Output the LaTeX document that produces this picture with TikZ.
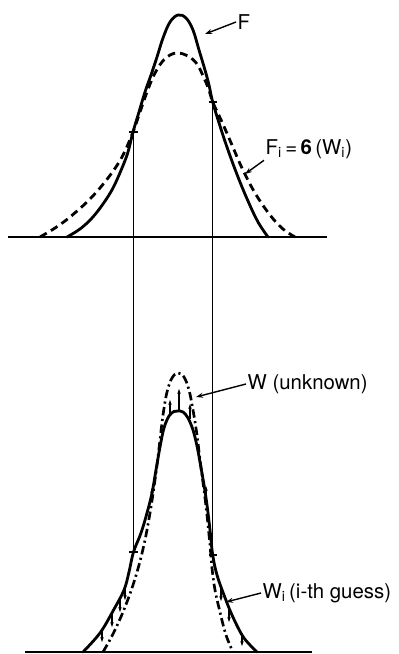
\documentclass[tikz,border=0pt]{standalone}
\usepackage{fontspec}
\setmainfont{TeX Gyre Heros}
\usetikzlibrary{arrows.meta}
\begin{document}
\begin{tikzpicture}[x=0.025cm,y=-0.025cm,
  curve/.style={line width=2pt, line join=round, line cap=round},
  dashcurve/.style={line width=2pt, line join=round, dash pattern=on 5.5pt off 3.5pt},
  dashdotcurve/.style={line width=1.9pt, line join=round, dash pattern=on 6pt off 2.5pt on 1.5pt off 2.5pt},
  axisline/.style={line width=2pt},
  guide/.style={line width=0.9pt},
  tickmark/.style={line width=0.9pt},
  lbl/.style={font=\fontsize{14.5}{16}\selectfont, inner sep=1pt, anchor=west},
  lblarrow/.style={line width=1pt, -{Stealth[length=5pt,width=3.5pt]}},
  corr/.style={line width=0.8pt, -{Stealth[length=3.5pt,width=2.5pt]}},
]
\useasboundingbox (0,0) rectangle (399,654);

% ---------- top plot ----------
\coordinate (tL0) at (8,237);
\coordinate (tR0) at (327,237);
\draw[axisline] (tL0) -- (tR0);

% F (solid)
\draw[curve] plot[smooth, tension=0.6] coordinates {
 (67,237) (80,229) (92,218) (103,204) (113,188) (122,168) (128,152) (133,132)
 (139,112) (145,92) (151,75) (157,57) (163,38) (170,22) (178,15) (186,18)
 (193,30) (199,50) (205,70) (209,85) (212.7,102) (220,126) (228,150) (238,177)
 (248,201) (258,222) (268,237)};

% F_i (dashed)
\draw[dashcurve] plot[smooth, tension=0.6] coordinates {
 (40,237) (55,228) (70,217) (90,199) (108,178) (122,157) (133,132) (140,112)
 (147,92) (154,75) (162,62) (170,55) (178,53) (188,56) (197,64) (204,78)
 (209,90) (212.7,102) (222,122) (232,145) (242,168) (255,193) (270,215)
 (283,229) (295,237)};

% crossing points and vertical guides
\coordinate (cTL) at (133.5,132);
\coordinate (cTR) at (212.7,102);
\coordinate (cBL) at (133.5,552);
\coordinate (cBR) at (212.7,555);
\draw[guide] (cTL) -- (cBL);
\draw[guide] (cTR) -- (cBR);
\foreach \c in {cTL,cTR,cBL,cBR}
  \draw[tickmark] ([xshift=-0.1cm]\c) -- ([xshift=0.1cm]\c);

% ---------- bottom plot ----------
\coordinate (bL0) at (25,652);
\coordinate (bR0) at (312,652);
\draw[axisline] (bL0) -- (bR0);

% W_i (solid)
\draw[curve] plot[smooth, tension=0.6] coordinates {
 (83,652) (100,633) (113,611) (124,590) (129,572) (133.5,552) (141,533)
 (147,513) (152,493) (156,470) (160,447) (164,428) (169,416) (174,411.5)
 (178,411) (183,412) (188,418) (193,430) (197,446) (200,462) (204,485)
 (207,505) (210,530) (212.7,555) (217,575) (224,595) (232,615) (242,635)
 (250,645) (257,652)};

% W (dash-dot)
\draw[dashdotcurve] plot[smooth, tension=0.6] coordinates {
 (103,652) (113,634) (123,612) (132,588) (139,565) (145,540) (150,513)
 (154,487) (157,465) (160,440) (163,415) (167,392) (172,378) (178,373)
 (184,377) (189,390) (193,410) (197,435) (200,460) (204,490) (207,515)
 (210,545) (212,568) (215,590) (220,612) (226,635) (233,652)};

% correction arrows
\foreach \xa/\ya/\yb in {179/410/389, 170/414/400, 190/419/404, 152/500/488, 206/498/486}
  {\coordinate (s) at (\xa,\ya); \coordinate (e) at (\xa,\yb); \draw[corr] (s) -- (e);}
\foreach \xa/\ya/\yb in {125/588/600, 120/600/612, 112/614/627, 102/630/642, 221/588/601, 229/608/622, 242/633/646}
  {\coordinate (s) at (\xa,\ya); \coordinate (e) at (\xa,\yb); \draw[corr] (s) -- (e);}

% ---------- labels ----------
\node[lbl] (Flab) at (236,22) {F};
\coordinate (fA) at (205,34);
\draw[lblarrow] (Flab.west) -- (fA);

\node[lbl] (Filab) at (264,149) {F\textsubscript{i}\,=\,\textbf{6}\,(W\textsubscript{i})};
\coordinate (fiA) at (245,174);
\draw[lblarrow] (Filab.south west) -- (fiA);

\node[lbl] (Wlab) at (246,384) {W (unknown)};
\coordinate (wA) at (196,397);
\draw[lblarrow] (Wlab.west) -- (wA);

\node[lbl] (Wilab) at (261,593) {W\textsubscript{i}\,(i-th guess)};
\coordinate (wiA) at (226,602);
\draw[lblarrow] (Wilab.west) -- (wiA);
\end{tikzpicture}
\end{document}
